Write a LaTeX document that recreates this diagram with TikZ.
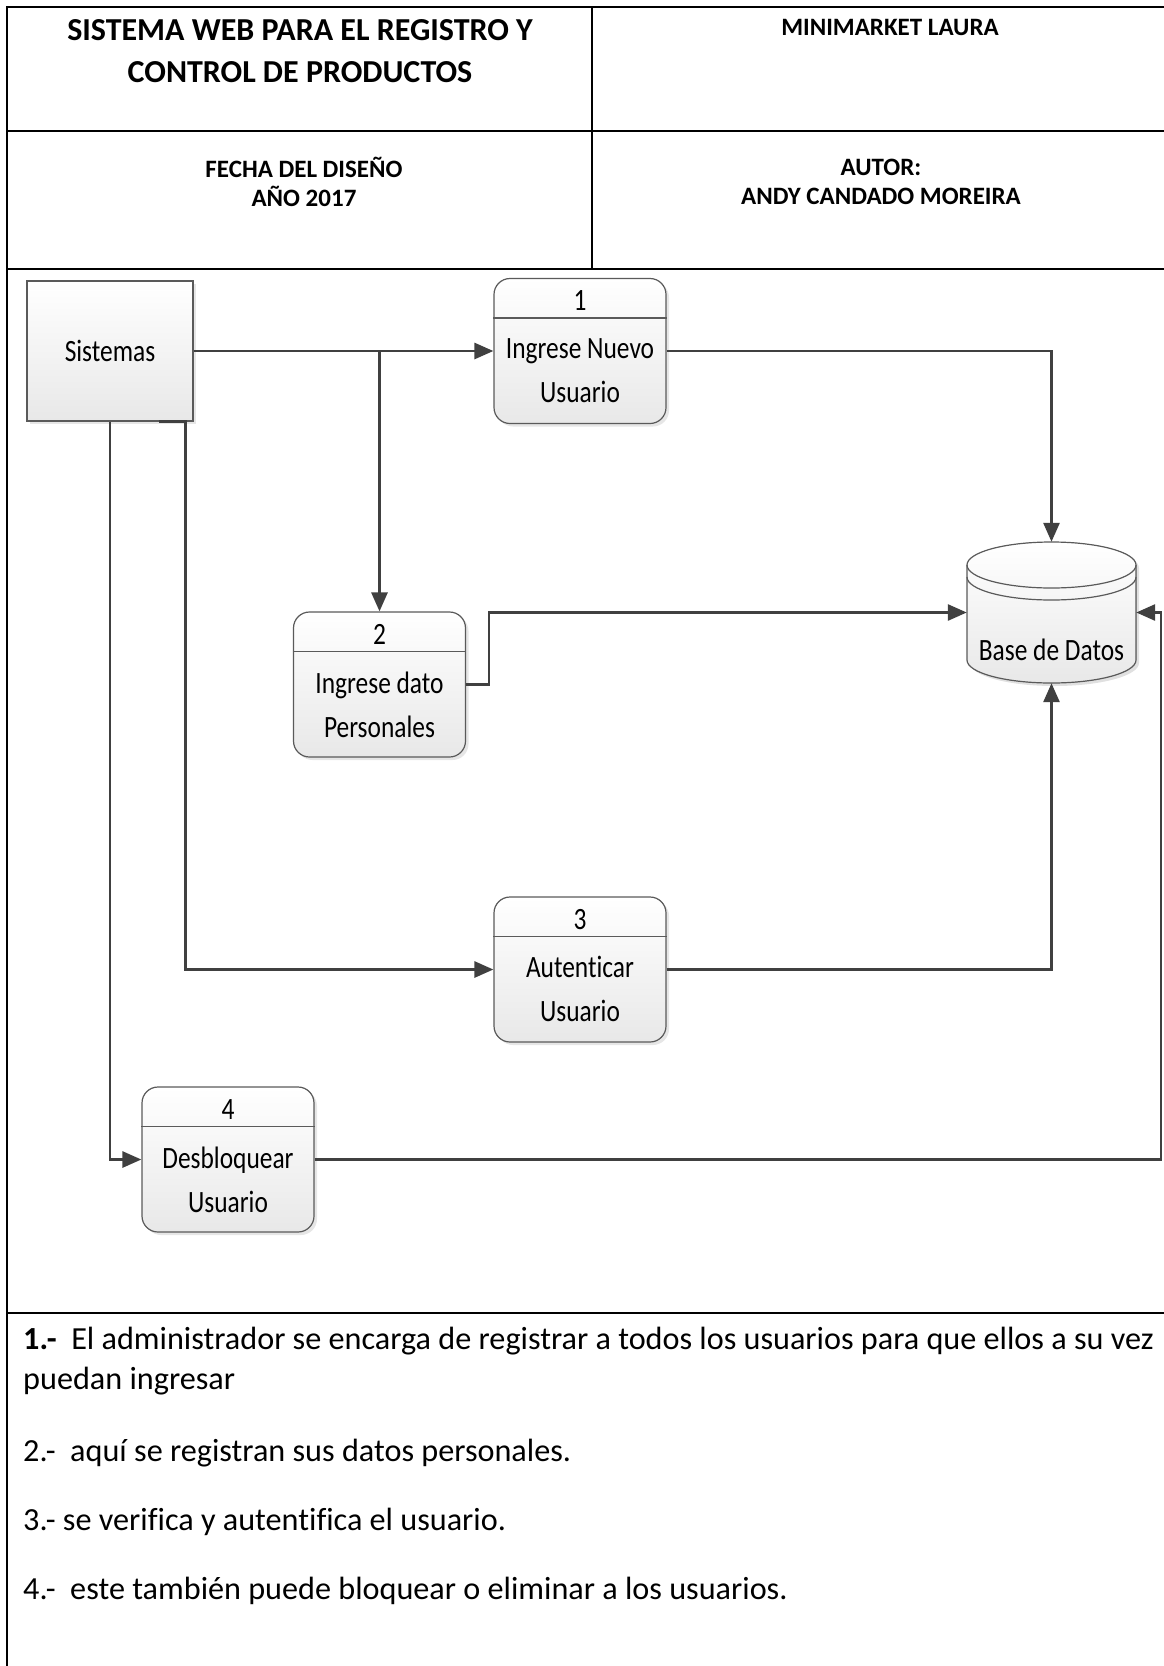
\documentclass[tikz,border=0pt]{standalone}
\usepackage{fontspec}
\setmainfont{Carlito}[Ligatures=CommonOff]
\usepackage{graphicx}
\usetikzlibrary{arrows.meta,shadows}

\definecolor{flowgray}{HTML}{404040}
\definecolor{edgegray}{HTML}{5A5A5A}
\definecolor{fillgray}{HTML}{E8E8E8}

\newcommand{\squeezed}[1]{\scalebox{0.82}[1]{#1}}

\begin{document}
\begin{tikzpicture}[x=1pt,y=1pt,yscale=-1,xscale=1,
  frame/.style={line width=2.7pt,black,line cap=rect},
  flow/.style={line width=2.8pt,flowgray,-{Triangle[length=19pt,width=16pt]}},
  rule/.style={draw=edgegray,line width=1.2pt},
  proc/.style={draw=edgegray,line width=1.2pt,rounded corners=16pt,top color=white,bottom color=fillgray,
    minimum width=172pt,minimum height=145pt,inner sep=0pt,
    drop shadow={shadow xshift=3pt,shadow yshift=-3pt,opacity=0.2}},
  extent/.style={draw=edgegray,line width=1.2pt,top color=white,bottom color=fillgray,
    minimum width=166pt,minimum height=140pt,inner sep=0pt,
    drop shadow={shadow xshift=3pt,shadow yshift=-3pt,opacity=0.2}},
  store/.style={minimum width=169pt,minimum height=141pt,inner sep=0pt},
  num/.style={font=\fontsize{31}{36}\selectfont,inner sep=0pt},
  lbl/.style={font=\fontsize{31}{44}\selectfont,align=center,inner sep=0pt},
  head/.style={font=\bfseries\fontsize{32}{42}\selectfont,align=center,inner sep=0pt},
  subhead/.style={font=\bfseries\fontsize{25}{29}\selectfont,align=center,inner sep=0pt},
  note/.style={font=\fontsize{32.2}{36}\selectfont,anchor=west,inner sep=0pt}]
\useasboundingbox (0,0) rectangle (1164,1666);

%Header frame
\draw[frame] (7,7) -- (1164,7);
\draw[frame] (7,7) -- (7,1666);
\draw[frame] (7,131) -- (1164,131);
\draw[frame] (7,269) -- (1164,269);
\draw[frame] (592,7) -- (592,269);
\draw[frame] (7,1313) -- (1164,1313);

% Text Node
\node[head] (title) at (300,51) {SISTEMA WEB PARA EL REGISTRO Y\\CONTROL DE PRODUCTOS};
\node[subhead] (shop) at (890,27) {MINIMARKET LAURA};
\node[subhead] (fecha) at (304,181.5) {FECHA DEL DISEÑO\\AÑO 2017};
\node[subhead] (autor) at (881,181.5) {AUTOR:\\ANDY CANDADO MOREIRA};

%External entity
\node[extent] (sis) at (110,351) {};
\node[lbl] (sist) at (110,351) {\squeezed{Sistemas}};

%Processes
\node[proc] (p1) at (580,351) {};
\node[proc] (p2) at (379.5,684.5) {};
\node[proc] (p3) at (580,969.5) {};
\node[proc] (p4) at (228,1159.5) {};
\draw[rule] ([yshift=40pt]p1.north west) -- ([yshift=40pt]p1.north east);
\draw[rule] ([yshift=40pt]p2.north west) -- ([yshift=40pt]p2.north east);
\draw[rule] ([yshift=40pt]p3.north west) -- ([yshift=40pt]p3.north east);
\draw[rule] ([yshift=40pt]p4.north west) -- ([yshift=40pt]p4.north east);
\node[num] (p1n) at ([yshift=23pt]p1.north) {\squeezed{1}};
\node[num] (p2n) at ([yshift=23pt]p2.north) {\squeezed{2}};
\node[num] (p3n) at ([yshift=23pt]p3.north) {\squeezed{3}};
\node[num] (p4n) at ([yshift=23pt]p4.north) {\squeezed{4}};
\node[lbl] (p1t) at ([yshift=93pt]p1.north) {\squeezed{Ingrese Nuevo}\\\squeezed{Usuario}};
\node[lbl] (p2t) at ([yshift=93pt]p2.north) {\squeezed{Ingrese dato}\\\squeezed{Personales}};
\node[lbl] (p3t) at ([yshift=93pt]p3.north) {\squeezed{Autenticar}\\\squeezed{Usuario}};
\node[lbl] (p4t) at ([yshift=93pt]p4.north) {\squeezed{Desbloquear}\\\squeezed{Usuario}};

%Data store
\begin{scope}[shift={(3,3)}]
\fill[black!12] (967,565) -- (967,660) arc[start angle=180,end angle=0,x radius=84.5,y radius=23] -- (1136,565) arc[start angle=0,end angle=-180,x radius=84.5,y radius=23] -- cycle;
\end{scope}
\fill[top color=white,bottom color=fillgray] (967,565) -- (967,660) arc[start angle=180,end angle=0,x radius=84.5,y radius=23] -- (1136,565) arc[start angle=0,end angle=-180,x radius=84.5,y radius=23] -- cycle;
\draw[rule] (967,565) -- (967,660) arc[start angle=180,end angle=0,x radius=84.5,y radius=23] -- (1136,565);
\draw[rule] (1051.5,565) ellipse[x radius=84.5,y radius=23];
\draw[rule] (967,577) arc[start angle=180,end angle=0,x radius=84.5,y radius=23];
\node[store] (db) at (1051.5,612.5) {};
\node[lbl] (dbt) at (1051.5,650) {\squeezed{Base de Datos}};

%Flows
\coordinate (jog) at (489,612.5);
\coordinate (rail) at (1161,612.5);
\draw[flow] (sis.east) -- (p1.west);
\draw[flow] (sis.east -| p2.north) -- (p2.north);
\draw[flow] (p1.east) -| (db.north);
\draw[flow] (p2.east) -| (jog) -- (db.west);
\draw[flow] ([xshift=-35pt]sis.south east) -- ([xshift=-8pt]sis.south east) |- (p3.west);
\draw[flow] (p3.east) -| (db.south);
\draw[flow] (sis.south) |- (p4.west);
\draw[flow] (p4.east) -| (rail) -- (db.east);

% Text Node
\node[note] (n1) at (23,1341) {\textbf{1.-}\ \ El administrador se encarga de registrar a todos los usuarios para que ellos a su vez};
\node[note] (n1b) at (23,1381) {puedan ingresar};
\node[note] (n2) at (23,1453) {2.-\ \ aquí se registran sus datos personales.};
\node[note] (n3) at (23,1522) {3.- se verifica y autentifica el usuario.};
\node[note] (n4) at (23,1591) {4.-\ \ este también puede bloquear o eliminar a los usuarios.};
\end{tikzpicture}
\end{document}
